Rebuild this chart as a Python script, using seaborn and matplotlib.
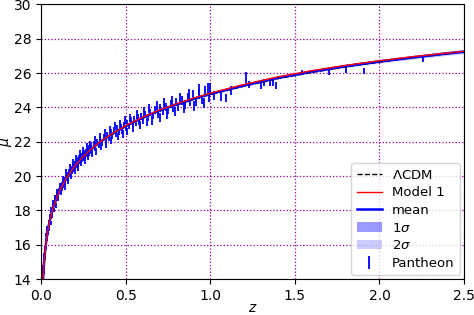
import numpy as np
import pandas as pd
import matplotlib
matplotlib.use("Agg")
import matplotlib.pyplot as plt
import seaborn as sns

# ---- model curves ----
z_curve = [0.01, 0.015, 0.02, 0.03, 0.04, 0.05, 0.07, 0.1, 0.15, 0.2, 0.25, 0.3, 0.35,
           0.4, 0.5, 0.6, 0.7, 0.8, 0.9, 1.0, 1.2, 1.4, 1.6, 1.8, 2.0, 2.2, 2.4, 2.5]
mu_lcdm = [13.83, 14.71, 15.35, 16.24, 16.89, 17.39, 18.15, 18.96, 19.92, 20.61, 21.15, 21.61, 21.99,
           22.33, 22.91, 23.39, 23.80, 24.15, 24.47, 24.75, 25.24, 25.68, 26.04, 26.36, 26.64, 26.89, 27.12, 27.23]
mu_model1 = [13.83, 14.71, 15.35, 16.24, 16.89, 17.39, 18.15, 18.96, 19.92, 20.61, 21.16, 21.62, 22.01,
             22.35, 22.94, 23.43, 23.85, 24.21, 24.54, 24.83, 25.34, 25.78, 26.14, 26.45, 26.72, 26.96, 27.17, 27.27]
mu_mean = [13.83, 14.71, 15.35, 16.24, 16.89, 17.39, 18.15, 18.96, 19.92, 20.61, 21.15, 21.61, 22.00,
           22.34, 22.92, 23.41, 23.82, 24.18, 24.50, 24.79, 25.29, 25.73, 26.09, 26.41, 26.68, 26.92, 27.15, 27.25]
sig1 = [0.02, 0.02, 0.02, 0.02, 0.02, 0.02, 0.02, 0.02, 0.02, 0.02, 0.02, 0.02, 0.02,
        0.02, 0.02, 0.03, 0.03, 0.03, 0.03, 0.03, 0.04, 0.04, 0.04, 0.05, 0.05, 0.05, 0.06, 0.06]
sig2 = [0.04, 0.04, 0.04, 0.04, 0.04, 0.04, 0.04, 0.04, 0.04, 0.04, 0.04, 0.04, 0.05,
        0.05, 0.05, 0.06, 0.06, 0.06, 0.06, 0.07, 0.08, 0.08, 0.09, 0.10, 0.10, 0.11, 0.12, 0.12]

# ---- Pantheon points ----
z_sn = [0.0101, 0.0105, 0.0112, 0.0118, 0.0125, 0.0131, 0.0138, 0.0145, 0.0152, 0.016,
        0.0168, 0.0175, 0.0183, 0.019, 0.0199, 0.021, 0.022, 0.0232, 0.0245, 0.0256,
        0.0268, 0.028, 0.0293, 0.0305, 0.032, 0.0335, 0.035, 0.0368, 0.0385, 0.040,
        0.042, 0.044, 0.046, 0.048, 0.050, 0.053, 0.056, 0.059, 0.062, 0.065,
        0.068, 0.072, 0.076, 0.080, 0.084, 0.088, 0.092, 0.096, 0.100,
        0.105, 0.110, 0.115, 0.120, 0.125, 0.130, 0.135, 0.140, 0.145, 0.150,
        0.155, 0.160, 0.165, 0.170, 0.175, 0.180, 0.185, 0.190, 0.195, 0.200,
        0.205, 0.210, 0.215, 0.220, 0.225, 0.230, 0.235, 0.240, 0.245, 0.250,
        0.255, 0.260, 0.265, 0.270, 0.275, 0.280, 0.285, 0.290, 0.295, 0.300,
        0.31, 0.32, 0.33, 0.34, 0.35, 0.36, 0.37, 0.38, 0.39, 0.40,
        0.41, 0.42, 0.43, 0.44, 0.45, 0.46, 0.47, 0.48, 0.49, 0.50,
        0.51, 0.52, 0.53, 0.54, 0.55, 0.56, 0.57, 0.58, 0.59, 0.60,
        0.615, 0.63, 0.645, 0.66, 0.675, 0.69, 0.705, 0.72,
        0.735, 0.75, 0.765, 0.78, 0.795, 0.81,
        0.83, 0.85, 0.865, 0.88, 0.90, 0.915, 0.93, 0.95, 0.97, 0.99,
        1.00, 1.02, 1.06, 1.09, 1.12,
        1.21, 1.23, 1.30, 1.32, 1.35, 1.37, 1.39, 1.54, 1.70, 1.80, 1.91, 2.26,
        0.0115, 0.0128, 0.0142, 0.0157, 0.0172, 0.0187, 0.0205, 0.0225, 0.024, 0.0262,
        0.0285, 0.031, 0.034, 0.037, 0.0395, 0.043, 0.047, 0.051, 0.055, 0.060,
        0.064, 0.070, 0.074, 0.082, 0.086, 0.094, 0.098,
        0.108, 0.118, 0.128, 0.138, 0.148, 0.158, 0.168, 0.178, 0.188, 0.198,
        0.208, 0.218, 0.228, 0.238, 0.248, 0.258, 0.268, 0.278, 0.288, 0.298,
        0.315, 0.325, 0.345, 0.355, 0.375, 0.385, 0.405, 0.415,
        0.435, 0.455, 0.465, 0.485, 0.495, 0.505,
        0.525, 0.545, 0.565, 0.585, 0.605, 0.625,
        0.64, 0.655, 0.685, 0.70, 0.725, 0.745, 0.775, 0.79,
        0.82, 0.845, 0.875, 0.905, 0.935, 0.96, 0.985]
mu_sn = [13.90, 13.95, 14.20, 14.30, 14.45, 14.60, 14.62, 14.80, 14.70, 14.95,
         15.02, 15.15, 15.10, 15.30, 15.38, 15.45, 15.58, 15.62, 15.80, 15.88,
         16.05, 16.02, 16.20, 16.30, 16.35, 16.52, 16.55, 16.75, 16.78, 16.95,
         17.00, 17.15, 17.20, 17.35, 17.38, 17.55, 17.62, 17.80, 17.85, 18.05,
         18.05, 18.25, 18.30, 18.50, 18.52, 18.75, 18.72, 18.95, 18.90,
         19.15, 19.12, 19.40, 19.30, 19.55, 19.48, 19.80, 19.62, 19.95, 19.85,
         20.10, 19.95, 20.25, 20.10, 20.45, 20.25, 20.55, 20.40, 20.72, 20.50,
         20.80, 20.62, 20.95, 20.75, 21.05, 20.85, 21.20, 20.98, 21.25, 21.05,
         21.35, 21.15, 21.40, 21.28, 21.55, 21.35, 21.62, 21.45, 21.75, 21.52,
         21.85, 21.65, 22.00, 21.80, 22.15, 21.95, 22.28, 22.05, 22.40, 22.20,
         22.55, 22.35, 22.65, 22.45, 22.80, 22.58, 22.85, 22.65, 22.98, 22.78,
         23.10, 22.90, 23.22, 23.00, 23.30, 23.08, 23.40, 23.15, 23.48, 23.25,
         23.58, 23.40, 23.70, 23.52, 23.85, 23.62, 23.95, 23.75,
         24.05, 23.85, 24.20, 23.95, 24.30, 24.05,
         24.40, 24.15, 24.60, 24.30, 24.75, 24.35, 24.80, 24.45, 24.95, 24.60,
         25.10, 24.70, 24.65, 24.55, 25.00,
         25.75, 25.36, 25.32, 25.45, 25.45, 25.42, 25.30, 26.05, 26.05, 26.17, 26.12, 26.80,
         14.00, 14.70, 14.45, 15.10, 14.90, 15.40, 15.25, 15.80, 15.50, 16.10,
         15.90, 16.55, 16.30, 16.95, 16.65, 17.30, 16.95, 17.65, 17.25, 18.05,
         17.70, 18.45, 18.00, 18.75, 18.30, 19.10, 18.65,
         19.45, 19.05, 19.85, 19.35, 20.25, 19.70, 20.50, 20.00, 20.80, 20.30,
         21.05, 20.50, 21.30, 20.75, 21.50, 20.90, 21.70, 21.10, 21.85, 21.30,
         22.10, 21.45, 22.30, 21.70, 22.50, 21.85, 22.70, 22.05,
         22.90, 22.30, 23.05, 22.45, 23.25, 22.60,
         23.40, 22.80, 23.60, 22.95, 23.75, 23.15,
         23.95, 23.25, 24.10, 23.40, 24.25, 23.60, 24.40, 23.75,
         24.55, 23.95, 24.75, 24.10, 25.05, 24.25, 25.15]
err_sn = [0.15, 0.14, 0.13, 0.14, 0.12, 0.13, 0.12, 0.12, 0.11, 0.12,
          0.11, 0.11, 0.12, 0.11, 0.10, 0.11, 0.10, 0.11, 0.10, 0.10,
          0.10, 0.11, 0.10, 0.10, 0.11, 0.10, 0.10, 0.11, 0.10, 0.10,
          0.11, 0.10, 0.11, 0.10, 0.11, 0.10, 0.11, 0.10, 0.11, 0.12,
          0.11, 0.12, 0.11, 0.12, 0.12, 0.13, 0.12, 0.13, 0.12,
          0.13, 0.14, 0.13, 0.14, 0.13, 0.15, 0.14, 0.13, 0.15, 0.14,
          0.15, 0.14, 0.15, 0.14, 0.16, 0.15, 0.15, 0.14, 0.16, 0.15,
          0.16, 0.15, 0.17, 0.15, 0.16, 0.15, 0.17, 0.16, 0.16, 0.15,
          0.17, 0.16, 0.16, 0.15, 0.17, 0.16, 0.17, 0.16, 0.17, 0.16,
          0.17, 0.16, 0.18, 0.16, 0.17, 0.17, 0.18, 0.17, 0.18, 0.17,
          0.18, 0.17, 0.19, 0.18, 0.19, 0.17, 0.19, 0.18, 0.19, 0.18,
          0.19, 0.18, 0.20, 0.19, 0.20, 0.19, 0.20, 0.19, 0.21, 0.20,
          0.21, 0.20, 0.22, 0.21, 0.22, 0.21, 0.22, 0.21,
          0.23, 0.22, 0.23, 0.22, 0.24, 0.23,
          0.24, 0.23, 0.26, 0.24, 0.28, 0.25, 0.30, 0.26, 0.30, 0.27,
          0.30, 0.28, 0.25, 0.25, 0.25,
          0.34, 0.20, 0.22, 0.18, 0.18, 0.20, 0.20, 0.12, 0.18, 0.18, 0.20, 0.18,
          0.15, 0.14, 0.13, 0.13, 0.12, 0.12, 0.12, 0.12, 0.11, 0.12,
          0.11, 0.12, 0.11, 0.12, 0.11, 0.12, 0.12, 0.12, 0.12, 0.13,
          0.12, 0.13, 0.12, 0.14, 0.13, 0.14, 0.13,
          0.16, 0.15, 0.17, 0.16, 0.18, 0.16, 0.18, 0.17, 0.19, 0.17,
          0.19, 0.18, 0.20, 0.18, 0.20, 0.18, 0.20, 0.19, 0.21, 0.19,
          0.21, 0.20, 0.22, 0.20, 0.22, 0.21, 0.23, 0.21,
          0.23, 0.22, 0.24, 0.22, 0.24, 0.22,
          0.24, 0.23, 0.25, 0.23, 0.26, 0.24,
          0.26, 0.25, 0.27, 0.25, 0.28, 0.26, 0.28, 0.27,
          0.28, 0.30, 0.30, 0.28, 0.30, 0.30, 0.30]

curves = pd.DataFrame({"z": z_curve, "lcdm": mu_lcdm, "model1": mu_model1,
                       "mean": mu_mean, "s1": sig1, "s2": sig2})
sn = pd.DataFrame({"z": z_sn, "mu": mu_sn, "err": err_sn})

fig, ax = plt.subplots(figsize=(4.74, 3.15), dpi=100)
fig.subplots_adjust(left=0.087, right=0.979, bottom=0.114, top=0.986)

eb = ax.errorbar(sn["z"], sn["mu"], yerr=sn["err"], fmt="none", ecolor="blue",
                 elinewidth=1.3, zorder=1, label="Pantheon")

sns.lineplot(data=curves, x="z", y="lcdm", ax=ax, color="black", linestyle="--",
             linewidth=1.0, label=r"$\Lambda$CDM", zorder=3)
sns.lineplot(data=curves, x="z", y="model1", ax=ax, color="red", linewidth=1.0,
             label="Model 1", zorder=4)
sns.lineplot(data=curves, x="z", y="mean", ax=ax, color="blue", linewidth=1.8,
             label="mean", zorder=3.5)
f1 = ax.fill_between(curves["z"], curves["mean"] - curves["s1"], curves["mean"] + curves["s1"],
                     color="blue", alpha=0.4, linewidth=0, label=r"1$\sigma$", zorder=2)
f2 = ax.fill_between(curves["z"], curves["mean"] - curves["s2"], curves["mean"] + curves["s2"],
                     color="blue", alpha=0.2, linewidth=0, label=r"2$\sigma$", zorder=2)

ax.set_xlim(0, 2.5)
ax.set_ylim(14, 30)
ax.set_xticks([0.0, 0.5, 1.0, 1.5, 2.0, 2.5])
ax.set_yticks([14, 16, 18, 20, 22, 24, 26, 28, 30])
ax.tick_params(labelsize=10)
ax.grid(True, color="#990099", linestyle=":", linewidth=0.9)
ax.set_axisbelow(True)
ax.set_xlabel(r"$z$", fontsize=10, labelpad=-1)
ax.set_ylabel(r"$\mu$", fontsize=10, labelpad=0)

handles, labels = ax.get_legend_handles_labels()
order = [r"$\Lambda$CDM", "Model 1", "mean", r"1$\sigma$", r"2$\sigma$", "Pantheon"]
hmap = dict(zip(labels, handles))
ax.legend([hmap[k] for k in order], order, loc="lower right", fontsize=9.5,
          handlelength=1.9, labelspacing=0.35, borderaxespad=0.3)

fig.savefig("out.png", dpi=100)
